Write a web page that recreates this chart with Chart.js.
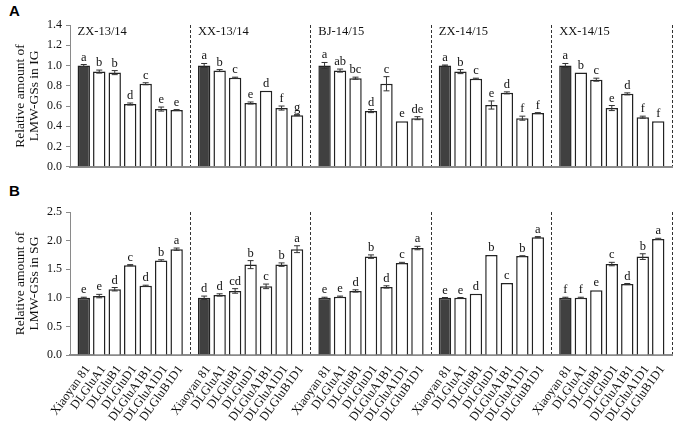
<!DOCTYPE html>
<html>
<head>
<meta charset="utf-8">
<script src="https://cdn.jsdelivr.net/npm/chart.js@4.4.1/dist/chart.umd.min.js"></script>
<style>
  body { margin: 0; background: #fff; }
  #wrap { position: relative; width: 675px; height: 421px; background: #fff; }
  .tag { position: absolute; font: bold 15px "Liberation Sans", Arial, sans-serif; color: #000; }
  .panel { position: absolute; left: 0; width: 675px; }
</style>
</head>
<body>
<div id="wrap">
  <div class="tag" style="left:9px;top:2px">A</div>
  <div class="tag" style="left:9px;top:182px">B</div>
  <div class="panel" style="top:0;height:178px"><canvas id="chartA"></canvas></div>
  <div class="panel" style="top:178px;height:243px"><canvas id="chartB"></canvas></div>
</div>
<script>
const genotypes = ['Xiaoyan 81', 'DLGluA1', 'DLGluB1', 'DLGluD1', 'DLGluA1B1', 'DLGluA1D1', 'DLGluB1D1'];
const sites = ['ZX-13/14', 'XX-13/14', 'BJ-14/15', 'ZX-14/15', 'XX-14/15'];

// panel A: IG, one row per site, one value per genotype
const igMeans = [
  [1.00, 0.94, 0.93, 0.62, 0.82, 0.57, 0.56],
  [1.00, 0.95, 0.88, 0.63, 0.75, 0.58, 0.51],
  [1.00, 0.95, 0.875, 0.55, 0.82, 0.45, 0.48],
  [1.00, 0.94, 0.87, 0.61, 0.73, 0.48, 0.53],
  [1.00, 0.93, 0.86, 0.58, 0.72, 0.49, 0.45]
];
const igErrors = [
  [0.01, 0.015, 0.02, 0.01, 0.01, 0.02, 0.005],
  [0.02, 0.01, 0.005, 0.01, 0.0, 0.02, 0.005],
  [0.03, 0.015, 0.01, 0.015, 0.07, 0.0, 0.015],
  [0.005, 0.02, 0.005, 0.04, 0.01, 0.02, 0.005],
  [0.02, 0.0, 0.015, 0.025, 0.01, 0.01, 0.0]
];
const igLetters = [
  ['a', 'b', 'b', 'd', 'c', 'e', 'e'],
  ['a', 'b', 'c', 'e', 'd', 'f', 'g'],
  ['a', 'ab', 'bc', 'd', 'c', 'e', 'de'],
  ['a', 'b', 'c', 'e', 'd', 'f', 'f'],
  ['a', 'b', 'c', 'e', 'd', 'f', 'f']
];

// panel B: SG
const sgMeans = [
  [1.00, 1.03, 1.15, 1.57, 1.21, 1.65, 1.85],
  [1.00, 1.05, 1.12, 1.58, 1.20, 1.58, 1.85],
  [1.00, 1.02, 1.12, 1.72, 1.19, 1.61, 1.87],
  [1.00, 1.00, 1.07, 1.75, 1.26, 1.73, 2.06],
  [1.00, 1.00, 1.13, 1.59, 1.24, 1.72, 2.03]
];
const sgErrors = [
  [0.01, 0.03, 0.03, 0.01, 0.01, 0.015, 0.02],
  [0.03, 0.02, 0.04, 0.07, 0.04, 0.03, 0.06],
  [0.01, 0.01, 0.02, 0.03, 0.02, 0.01, 0.03],
  [0.005, 0.005, 0.0, 0.0, 0.0, 0.005, 0.01],
  [0.01, 0.01, 0.0, 0.03, 0.01, 0.05, 0.01]
];
const sgLetters = [
  ['e', 'e', 'd', 'c', 'd', 'b', 'a'],
  ['d', 'd', 'cd', 'b', 'c', 'b', 'a'],
  ['e', 'e', 'd', 'b', 'd', 'c', 'a'],
  ['e', 'e', 'd', 'b', 'c', 'b', 'a'],
  ['f', 'f', 'e', 'c', 'd', 'b', 'a']
];

const serif = '"Liberation Serif", "Times New Roman", serif';

const annotate = {
  id: 'annotate',
  afterDatasetsDraw(chart, args, opts) {
    const ctx = chart.ctx;
    const y = chart.scales.y;
    ctx.save();
    chart.data.datasets.forEach((ds, j) => {
      chart.getDatasetMeta(j).data.forEach((bar, i) => {
        const m = opts.means[i][j], e = opts.errors[i][j];
        const top = y.getPixelForValue(m + e);
        const bot = y.getPixelForValue(m - e);
        ctx.strokeStyle = '#333';
        ctx.lineWidth = 1;
        if (e > 0) {
          ctx.beginPath();
          ctx.moveTo(bar.x, top); ctx.lineTo(bar.x, bot);
          ctx.moveTo(bar.x - 3, top); ctx.lineTo(bar.x + 3, top);
          ctx.moveTo(bar.x - 3, bot); ctx.lineTo(bar.x + 3, bot);
          ctx.stroke();
        }
        ctx.fillStyle = '#111';
        ctx.font = '12.5px ' + serif;
        ctx.textAlign = 'center';
        ctx.textBaseline = 'alphabetic';
        ctx.fillText(opts.letters[i][j], bar.x, Math.min(top, bar.y) - 4);
      });
    });
    const first = chart.getDatasetMeta(0).data;
    if (opts.siteNames) {
      ctx.font = '12.5px ' + serif;
      ctx.textAlign = 'left';
      first.forEach((bar, i) => {
        ctx.fillText(sites[i], bar.x - bar.width / 2, chart.chartArea.top + 10);
      });
    }
    if (opts.xLabels) {
      ctx.font = '12.5px ' + serif;
      ctx.textAlign = 'right';
      ctx.textBaseline = 'middle';
      chart.data.datasets.forEach((ds, j) => {
        chart.getDatasetMeta(j).data.forEach((bar) => {
          ctx.save();
          ctx.translate(bar.x + 4, chart.chartArea.bottom + 12);
          ctx.rotate(-54 * Math.PI / 180);
          ctx.fillText(ds.label, 0, 0);
          ctx.restore();
        });
      });
    }
    ctx.restore();
  }
};

function makeChart(id, means, errors, letters, yMax, yStep, title, pad, extra) {
  return new Chart(document.getElementById(id), {
    type: 'bar',
    data: {
      labels: sites,
      datasets: genotypes.map((g, j) => ({
        label: g,
        data: means.map(row => row[j]),
        backgroundColor: j === 0 ? '#404040' : '#ffffff',
        borderColor: '#222',
        borderWidth: 1.5,
        categoryPercentage: 0.9,
        barPercentage: 0.8
      }))
    },
    options: {
      responsive: true,
      maintainAspectRatio: false,
      animation: false,
      layout: { padding: pad },
      plugins: {
        legend: { display: false },
        tooltip: { enabled: false },
        annotate: Object.assign({ means: means, errors: errors, letters: letters }, extra)
      },
      scales: {
        x: {
          ticks: { display: false },
          grid: {
            offset: true,
            drawTicks: false,
            lineWidth: 1,
            color: (c) => (c.index === 0 || c.index === sites.length) ? 'rgba(0,0,0,0)' : '#333'
          },
          border: { display: true, color: '#8a8a8a', width: 2, dash: [3, 2] }
        },
        y: {
          min: 0,
          max: yMax,
          afterFit: (s) => { s.width = 70; },
          ticks: {
            stepSize: yStep,
            padding: 4,
            color: '#111',
            font: { family: serif, size: 12 },
            callback: (v) => v.toFixed(1)
          },
          grid: { drawOnChartArea: false, tickLength: 4, color: '#8a8a8a' },
          border: { color: '#8a8a8a', width: 1 },
          title: {
            display: true,
            text: title,
            color: '#111',
            font: { family: serif, size: 13.5, lineHeight: 1.0 },
            padding: { top: 14, bottom: 0 }
          }
        }
      }
    },
    plugins: [annotate]
  });
}

makeChart('chartA', igMeans, igErrors, igLetters, 1.4, 0.2,
  ['Relative amount of', 'LMW-GSs in IG'], { top: 25, right: 3, bottom: 9, left: 0 }, { siteNames: true });
makeChart('chartB', sgMeans, sgErrors, sgLetters, 2.5, 0.5,
  ['Relative amount of', 'LMW-GSs in SG'], { top: 34, right: 3, bottom: 66, left: 0 }, { xLabels: true });
</script>
</body>
</html>
